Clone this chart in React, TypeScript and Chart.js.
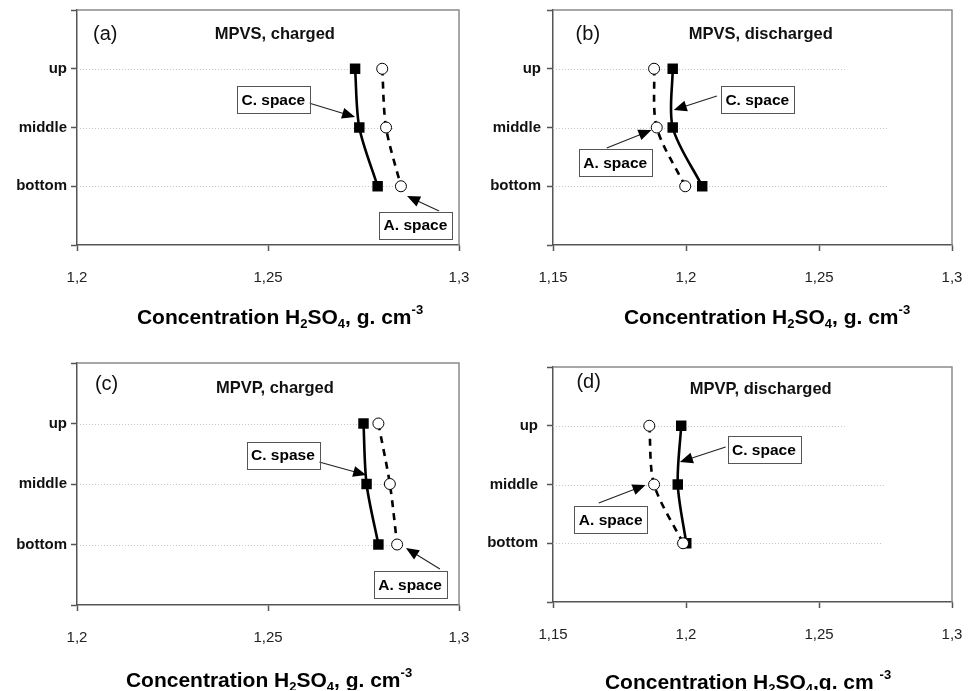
import React, { useEffect, useRef } from "react";
import { Chart, registerables } from "chart.js";
Chart.register(...registerables);

const FONT = "'Liberation Sans', Arial, Helvetica, sans-serif";

// vertical positions: up, middle, bottom
const LEVELS = [3, 2, 1];
const LEVEL_TICKS = [0, 1, 2, 3, 4];
const LEVEL_NAMES = ["", "bottom", "middle", "up", ""];

const X_TICKS_CHARGED = [1.2, 1.25, 1.3];
const X_TICKS_DISCHARGED = [1.15, 1.2, 1.25, 1.3];

// H2SO4 concentration (g/cm3) at up, middle, bottom
const C_SPACE_MPVS_CHARGED = [1.2728, 1.2739, 1.2787];
const A_SPACE_MPVS_CHARGED = [1.2799, 1.2809, 1.2848];
const C_SPACE_MPVS_DISCHARGED = [1.195, 1.195, 1.2061];
const A_SPACE_MPVS_DISCHARGED = [1.188, 1.189, 1.1997];
const C_SPACE_MPVP_CHARGED = [1.275, 1.2758, 1.2789];
const A_SPACE_MPVP_CHARGED = [1.2789, 1.2819, 1.2838];
const C_SPACE_MPVP_DISCHARGED = [1.1982, 1.1969, 1.2001];
const A_SPACE_MPVP_DISCHARGED = [1.1862, 1.188, 1.1989];

// dotted guide line ends (x value) for up, middle, bottom
const GRID_END_CHARGED = [1.274, 1.283, 1.283];
const GRID_END_DISCHARGED = [1.2606, 1.2756, 1.2756];

type Seg = { t: string; k?: "sub" | "sup" };

const TITLE_STD: Seg[] = [
  { t: "Concentration H" }, { t: "2", k: "sub" }, { t: "SO" }, { t: "4", k: "sub" },
  { t: ", g. cm" }, { t: "-3", k: "sup" },
];
const TITLE_D: Seg[] = [
  { t: "Concentration H" }, { t: "2", k: "sub" }, { t: "SO" }, { t: "4", k: "sub" },
  { t: ",g. cm " }, { t: "-3", k: "sup" },
];

const PANELS = [
  {
    key: "a", label: "(a)", title: "MPVS, charged", pos: [0, 0],
    area: { left: 77, right: 459, top: 10, bottom: 245 }, yPad: 4,
    xMin: 1.2, xMax: 1.3, xTicks: X_TICKS_CHARGED,
    c: C_SPACE_MPVS_CHARGED, a: A_SPACE_MPVS_CHARGED, gridEnd: GRID_END_CHARGED,
    labelAt: [1.2042, 3.59], titleAt: [1.2518, 3.59],
    cText: "C. space", cBox: [1.2514, 2.477], cArrow: [1.2607, 2.417, 1.2728, 2.179],
    aText: "A. space", aBox: [1.2886, 0.34], aArrow: [1.2948, 0.579, 1.2864, 0.834],
    axisTitle: TITLE_STD, axisTitleAt: [280, 316],
  },
  {
    key: "b", label: "(b)", title: "MPVS, discharged", pos: [484, 0],
    area: { left: 69, right: 468, top: 10, bottom: 245 }, yPad: 6,
    xMin: 1.15, xMax: 1.3, xTicks: X_TICKS_DISCHARGED,
    c: C_SPACE_MPVS_DISCHARGED, a: A_SPACE_MPVS_DISCHARGED, gridEnd: GRID_END_DISCHARGED,
    labelAt: [1.1585, 3.59], titleAt: [1.2281, 3.59],
    cText: "C. space", cBox: [1.2268, 2.477], cArrow: [1.2116, 2.536, 1.1954, 2.298],
    aText: "A. space", aBox: [1.1734, 1.404], aArrow: [1.1702, 1.651, 1.187, 1.957],
    axisTitle: TITLE_STD, axisTitleAt: [283, 316],
  },
  {
    key: "c", label: "(c)", title: "MPVP, charged", pos: [0, 345],
    area: { left: 77, right: 459, top: 18, bottom: 260 }, yPad: 4,
    xMin: 1.2, xMax: 1.3, xTicks: X_TICKS_CHARGED,
    c: C_SPACE_MPVP_CHARGED, a: A_SPACE_MPVP_CHARGED, gridEnd: GRID_END_CHARGED,
    labelAt: [1.2047, 3.653], titleAt: [1.2518, 3.587],
    cText: "C. spase", cBox: [1.2539, 2.479], cArrow: [1.2634, 2.364, 1.2757, 2.149],
    aText: "A. space", aBox: [1.2872, 0.339], aArrow: [1.295, 0.595, 1.2861, 0.942],
    axisTitle: TITLE_STD, axisTitleAt: [269, 334],
  },
  {
    key: "d", label: "(d)", title: "MPVP, discharged", pos: [484, 345],
    area: { left: 69, right: 468, top: 22, bottom: 257 }, yPad: 9,
    xMin: 1.15, xMax: 1.3, xTicks: X_TICKS_DISCHARGED,
    c: C_SPACE_MPVP_DISCHARGED, a: A_SPACE_MPVP_DISCHARGED, gridEnd: [1.2597, 1.2748, 1.274],
    labelAt: [1.1588, 3.728], titleAt: [1.2281, 3.626],
    cText: "C. space", cBox: [1.2293, 2.596], cArrow: [1.2149, 2.638, 1.1977, 2.383],
    aText: "A. space", aBox: [1.1717, 1.396], aArrow: [1.1672, 1.685, 1.1848, 1.991],
    axisTitle: TITLE_D, axisTitleAt: [264, 336],
  },
];

const W = 484;
const H = 345;

function drawRich(ctx: CanvasRenderingContext2D, segs: Seg[], cx: number, cy: number, size: number) {
  const small = Math.round(size * 0.62);
  const fontFor = (s: Seg) => `bold ${s.k ? small : size}px ${FONT}`;
  const widths = segs.map((s) => {
    ctx.font = fontFor(s);
    return ctx.measureText(s.t).width;
  });
  const total = widths.reduce((a, b) => a + b, 0);
  let x = cx - total / 2;
  const base = cy + size * 0.36;
  ctx.fillStyle = "#000";
  ctx.textAlign = "left";
  ctx.textBaseline = "alphabetic";
  segs.forEach((s, i) => {
    ctx.font = fontFor(s);
    let y = base;
    if (s.k === "sub") y = base + size * 0.2;
    if (s.k === "sup") y = base - size * 0.45;
    ctx.fillText(s.t, x, y);
    x += widths[i];
  });
}

function drawArrow(ctx: CanvasRenderingContext2D, x1: number, y1: number, x2: number, y2: number) {
  const ang = Math.atan2(y2 - y1, x2 - x1);
  const len = 13;
  const hw = 5.5;
  ctx.save();
  ctx.strokeStyle = "#222";
  ctx.lineWidth = 1.1;
  ctx.beginPath();
  ctx.moveTo(x1, y1);
  ctx.lineTo(x2 - Math.cos(ang) * len * 0.8, y2 - Math.sin(ang) * len * 0.8);
  ctx.stroke();
  ctx.fillStyle = "#000";
  ctx.beginPath();
  ctx.moveTo(x2, y2);
  ctx.lineTo(x2 - Math.cos(ang) * len - Math.sin(ang) * hw, y2 - Math.sin(ang) * len + Math.cos(ang) * hw);
  ctx.lineTo(x2 - Math.cos(ang) * len + Math.sin(ang) * hw, y2 - Math.sin(ang) * len - Math.cos(ang) * hw);
  ctx.closePath();
  ctx.fill();
  ctx.restore();
}

function drawBox(ctx: CanvasRenderingContext2D, text: string, cx: number, cy: number) {
  ctx.save();
  ctx.font = `bold 15.5px ${FONT}`;
  const w = ctx.measureText(text).width + 9;
  const h = 27;
  ctx.fillStyle = "#fff";
  ctx.fillRect(cx - w / 2, cy - h / 2, w, h);
  ctx.strokeStyle = "#555";
  ctx.lineWidth = 1;
  ctx.strokeRect(Math.round(cx - w / 2) + 0.5, Math.round(cy - h / 2) + 0.5, Math.round(w), h);
  ctx.fillStyle = "#000";
  ctx.textAlign = "center";
  ctx.textBaseline = "middle";
  ctx.fillText(text, cx, cy + 1);
  ctx.restore();
}

function Panel({ p }: { p: (typeof PANELS)[number] }) {
  const ref = useRef<HTMLCanvasElement | null>(null);
  useEffect(() => {
    const canvas = ref.current;
    if (!canvas) return;
    const decor = {
      id: "decor" + p.key,
      beforeDatasetsDraw(chart: any) {
        const ctx: CanvasRenderingContext2D = chart.ctx;
        const xs = chart.scales.x;
        const ys = chart.scales.y;
        const ca = chart.chartArea;
        ctx.save();
        // dotted guide lines
        ctx.strokeStyle = "#c8c8c8";
        ctx.lineWidth = 1;
        ctx.setLineDash([1, 2]);
        LEVELS.forEach((lv, i) => {
          const y = Math.round(ys.getPixelForValue(lv)) + 0.5;
          ctx.beginPath();
          ctx.moveTo(ca.left, y);
          ctx.lineTo(xs.getPixelForValue(p.gridEnd[i]), y);
          ctx.stroke();
        });
        ctx.setLineDash([]);
        // top and right frame
        ctx.strokeStyle = "#8a8a8a";
        ctx.lineWidth = 1.5;
        ctx.beginPath();
        ctx.moveTo(ca.left, ca.top);
        ctx.lineTo(ca.right, ca.top);
        ctx.lineTo(ca.right, ca.bottom);
        ctx.stroke();
        ctx.restore();
      },
      afterDraw(chart: any) {
        const ctx: CanvasRenderingContext2D = chart.ctx;
        const xs = chart.scales.x;
        const ys = chart.scales.y;
        const px = (v: number) => xs.getPixelForValue(v);
        const py = (v: number) => ys.getPixelForValue(v);
        ctx.save();
        // panel letter
        ctx.font = `20px ${FONT}`;
        ctx.fillStyle = "#111";
        ctx.textAlign = "left";
        ctx.textBaseline = "middle";
        ctx.fillText(p.label, px(p.labelAt[0]), py(p.labelAt[1]));
        // panel title
        ctx.font = `bold 16.5px ${FONT}`;
        ctx.textAlign = "center";
        ctx.fillText(p.title, px(p.titleAt[0]), py(p.titleAt[1]));
        ctx.restore();
        // arrows and boxes
        drawArrow(ctx, px(p.cArrow[0]), py(p.cArrow[1]), px(p.cArrow[2]), py(p.cArrow[3]));
        drawArrow(ctx, px(p.aArrow[0]), py(p.aArrow[1]), px(p.aArrow[2]), py(p.aArrow[3]));
        drawBox(ctx, p.cText, px(p.cBox[0]), py(p.cBox[1]));
        drawBox(ctx, p.aText, px(p.aBox[0]), py(p.aBox[1]));
        // axis title
        drawRich(ctx, p.axisTitle, p.axisTitleAt[0], p.axisTitleAt[1], 21);
      },
    };

    const chart = new Chart(canvas, {
      type: "scatter",
      data: {
        datasets: [
          {
            label: "A. space",
            data: p.a.map((v, i) => ({ x: v, y: LEVELS[i] })),
            showLine: true,
            borderColor: "#000",
            borderWidth: 2.6,
            borderDash: [7, 6],
            tension: 0.3,
            pointStyle: "circle",
            pointRadius: 5.5,
            pointBackgroundColor: "#fff",
            pointBorderColor: "#000",
            pointBorderWidth: 1,
          },
          {
            label: "C. space",
            data: p.c.map((v, i) => ({ x: v, y: LEVELS[i] })),
            showLine: true,
            borderColor: "#000",
            borderWidth: 2.6,
            tension: 0.3,
            pointStyle: "rect",
            pointRadius: 7.4,
            pointBackgroundColor: "#000",
            pointBorderColor: "#000",
            pointBorderWidth: 0,
          },
        ],
      },
      options: {
        responsive: false,
        animation: false,
        devicePixelRatio: 1,
        events: [],
        layout: { padding: { left: 0, top: p.area.top, right: W - p.area.right, bottom: 0 } },
        plugins: { legend: { display: false }, tooltip: { enabled: false }, title: { display: false } },
        scales: {
          x: {
            type: "linear",
            min: p.xMin,
            max: p.xMax,
            afterBuildTicks: (s: any) => {
              s.ticks = p.xTicks.map((v) => ({ value: v }));
            },
            afterFit: (s: any) => {
              s.height = H - p.area.bottom;
              s.paddingLeft = 0;
              s.paddingRight = 0;
            },
            ticks: {
              callback: (v: any) => String(v).replace(".", ","),
              font: { family: FONT, size: 15 },
              color: "#222",
              padding: 18,
              maxRotation: 0,
              autoSkip: false,
            },
            grid: { drawOnChartArea: false, drawTicks: true, tickLength: 6, tickColor: "#555", tickWidth: 1.5 },
            border: { color: "#555", width: 1.5 },
          },
          y: {
            type: "linear",
            min: 0,
            max: 4,
            afterBuildTicks: (s: any) => {
              s.ticks = LEVEL_TICKS.map((v) => ({ value: v }));
            },
            afterFit: (s: any) => {
              s.width = p.area.left;
              s.paddingTop = 0;
              s.paddingBottom = 0;
            },
            ticks: {
              callback: (v: any) => LEVEL_NAMES[v] ?? "",
              font: { family: FONT, size: 15, weight: "bold" },
              color: "#111",
              padding: p.yPad,
              autoSkip: false,
            },
            grid: { drawOnChartArea: false, drawTicks: true, tickLength: 6, tickColor: "#555", tickWidth: 1.5 },
            border: { color: "#555", width: 1.5 },
          },
        },
      },
      plugins: [decor],
    } as any);
    return () => chart.destroy();
  }, [p]);

  return (
    <canvas
      ref={ref}
      width={W}
      height={H}
      style={{ position: "absolute", left: p.pos[0], top: p.pos[1], width: W, height: H, display: "block" }}
    />
  );
}

export default function App() {
  return (
    <div style={{ position: "absolute", left: 0, top: 0, width: 968, height: 691, background: "#fff", overflow: "hidden" }}>
      {PANELS.map((p) => (
        <Panel key={p.key} p={p} />
      ))}
    </div>
  );
}
